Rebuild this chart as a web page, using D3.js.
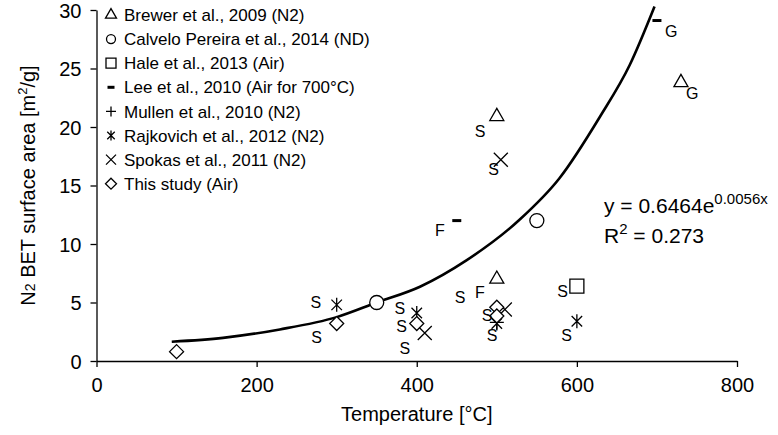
<!DOCTYPE html>
<html><head><meta charset="utf-8">
<script src="https://cdn.jsdelivr.net/npm/d3@7"></script>
<style>
body{margin:0;background:#fff;}
svg{display:block;font-family:"Liberation Sans",Arial,sans-serif;}
</style></head>
<body><svg id="c" width="778" height="435"></svg>
<script>
// ---- data ----
const xTicks = [0, 200, 400, 600, 800];
const yTicks = [0, 5, 10, 15, 20, 25, 30];
const seriesNames = ["Brewer et al., 2009 (N2)", "Calvelo Pereira et al., 2014 (ND)", "Hale et al., 2013 (Air)",
  "Lee et al., 2010 (Air for 700°C)", "Mullen et al., 2010 (N2)", "Rajkovich et al., 2012 (N2)",
  "Spokas et al., 2011 (N2)", "This study (Air)"];
const seriesMarkers = ["triangle", "circle", "square", "dash", "plus", "asterisk", "times", "diamond"];
const brewer = [[500, 20.9], [500, 7.0], [730, 23.8]];
const calvelo = [[350, 5.0], [550, 12.0]];
const hale = [[600, 6.4]];
const lee = [[450, 12.0], [700, 29.1]];
const mullen = [[500, 3.3]];
const rajkovich = [[300, 4.8], [400, 4.1], [500, 3.2], [600, 3.4]];
const spokas = [[410, 2.4], [510, 4.4], [505, 17.2]];
const thisStudy = [[100, 0.8], [300, 3.2], [400, 3.2], [500, 4.6], [500, 3.85]];
const seriesData = [brewer, calvelo, hale, lee, mullen, rajkovich, spokas, thisStudy];
const trendCurve = [[94, 1.65], [158, 1.98], [229, 2.7], [300, 3.75], [350, 5.0], [404, 6.35],
  [462, 8.6], [528, 12.05], [578, 15.6], [629, 20.9], [666, 25.3], [697, 30.3]];
const annoText = ["S","S","S","S","S","S","S","S","S","S","S","S","F","F","G","G"];
const annoT = [274, 275, 379, 381, 385, 454, 488, 494, 582, 587, 479, 496, 479, 429, 718, 744];
const annoV = [5.04, 2.05, 4.5, 2.95, 1.11, 5.47, 3.93, 2.22, 5.92, 2.22, 19.6, 16.4, 5.9, 11.2, 28.2, 22.9];

// ---- layout ----
const svg = d3.select("#c");
const x = d3.scaleLinear().domain([0, 800]).range([96.5, 737]);
const y = d3.scaleLinear().domain([0, 30]).range([361, 10]);

function markerPath(type, s) {
  const h = s / 2;
  switch (type) {
    case "triangle": { const th = s * 0.87; return `M0,${-th*2/3}L${h},${th/3}L${-h},${th/3}Z`; }
    case "circle": return `M${h},0A${h},${h} 0 1,1 ${-h},0A${h},${h} 0 1,1 ${h},0Z`;
    case "square": return `M${-h},${-h}H${h}V${h}H${-h}Z`;
    case "diamond": return `M0,${-h}L${h},0L0,${h}L${-h},0Z`;
    case "plus": return `M${-h},0H${h}M0,${-h}V${h}`;
    case "times": return `M${-h},${-h}L${h},${h}M${h},${-h}L${-h},${h}`;
    case "asterisk": { const a = h * 0.75; return `M0,${-h}V${h}M${-a},${-a}L${a},${a}M${a},${-a}L${-a},${a}`; }
    case "dash": return `M${-h},0H${h}`;
  }
}
function drawMarker(g, type, s) {
  const p = g.append("path").attr("d", markerPath(type, s)).attr("stroke", "#000");
  if (type === "dash") p.attr("stroke-width", 3).attr("fill", "none");
  else if (type === "plus" || type === "times" || type === "asterisk") p.attr("stroke-width", 1.3).attr("fill", "none");
  else p.attr("stroke-width", 1.3).attr("fill", "#fff");
}
const legendSize = {triangle: 11, circle: 9, square: 10, dash: 7, plus: 10, asterisk: 10, times: 10, diamond: 11};

// axes
const xAxis = d3.axisBottom(x).tickValues(xTicks).tickSize(6).tickSizeOuter(0).tickFormat(d3.format("d"));
const yAxis = d3.axisLeft(y).tickValues(yTicks).tickSize(6).tickSizeOuter(0).tickFormat(d3.format("d"));
const gx = svg.append("g").attr("transform", `translate(0,${y(0)})`).call(xAxis);
const gy = svg.append("g").attr("transform", `translate(${x(0)},0)`).call(yAxis);
[gx, gy].forEach(g => {
  g.select(".domain").attr("stroke", "#000").attr("stroke-width", 1.3);
  g.selectAll(".tick line").attr("stroke", "#000").attr("stroke-width", 1.3);
  g.selectAll(".tick text").attr("fill", "#000").attr("font-size", 20).attr("font-family", "Liberation Sans, Arial, sans-serif");
});
gx.selectAll(".tick text").attr("dy", "1.1em");
gy.selectAll(".tick text").attr("x", -15).attr("dy", "0.36em");

// axis titles
svg.append("text").attr("x", (x(0) + x(800)) / 2).attr("y", 421).attr("text-anchor", "middle")
  .attr("font-size", 20).text("Temperature [°C]");
const yt = svg.append("text").attr("transform", `translate(35,${(y(0) + y(30)) / 2}) rotate(-90)`)
  .attr("text-anchor", "middle").attr("font-size", 20);
yt.append("tspan").text("N");
yt.append("tspan").attr("font-size", 14).text("2");
yt.append("tspan").text(" BET surface area [m");
yt.append("tspan").attr("font-size", 13).attr("dy", -8).text("2");
yt.append("tspan").attr("dy", 8).text("/g]");

// trend curve
svg.append("path").datum(trendCurve)
  .attr("d", d3.line().x(d => x(d[0])).y(d => y(d[1])).curve(d3.curveMonotoneX))
  .attr("fill", "none").attr("stroke", "#000").attr("stroke-width", 2.6);

// points
seriesData.forEach((arr, i) => {
  arr.forEach(d => {
    const g = svg.append("g").attr("transform", `translate(${x(d[0])},${y(d[1])})`);
    drawMarker(g, seriesMarkers[i], seriesMarkers[i] === "dash" ? 9 : 14);
  });
});

// annotations
annoText.forEach((t, i) => {
  svg.append("text").attr("x", x(annoT[i])).attr("y", y(annoV[i])).attr("dy", "0.36em")
    .attr("text-anchor", "middle").attr("font-size", 16).text(t);
});

// legend
seriesNames.forEach((n, i) => {
  const cy = 15 + i * 24.1;
  const g = svg.append("g").attr("transform", `translate(111,${cy})`);
  drawMarker(g, seriesMarkers[i], legendSize[seriesMarkers[i]]);
  svg.append("text").attr("x", 124).attr("y", cy).attr("dy", "0.36em").attr("font-size", 17).text(n);
});

// equation
const eq = svg.append("text").attr("x", 604).attr("y", 213).attr("font-size", 21);
eq.append("tspan").text("y = 0.6464e");
eq.append("tspan").attr("font-size", 15).attr("dy", -9).text("0.0056x");
const r2 = svg.append("text").attr("x", 604).attr("y", 243).attr("font-size", 21);
r2.append("tspan").text("R");
r2.append("tspan").attr("font-size", 15).attr("dy", -9).text("2");
r2.append("tspan").attr("dy", 9).text(" = 0.273");
</script></body></html>
